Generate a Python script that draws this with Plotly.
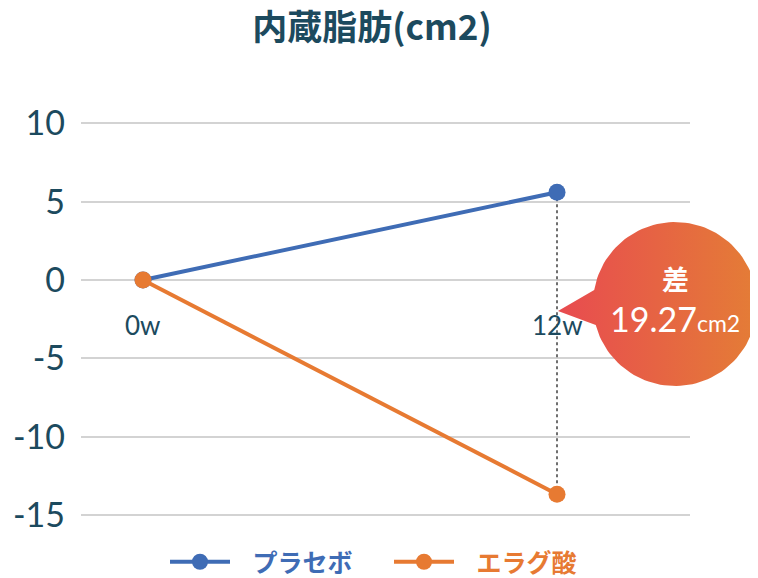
import numpy as np
import plotly.graph_objects as go

WEEKS = ["0w", "12w"]
PLACEBO = [0.0, 5.6]
ELLAGIC = [0.0, -13.67]
Y_TICKS = [10, 5, 0, -5, -10, -15]

BLUE = "#3f6cb5"
ORANGE = "#e77a32"
INK = "#1c4a5e"
# the page adds an 8px body margin, so the figure is that much smaller
OFF = 8
W, H = 758 - OFF, 578 - OFF
JP = "Noto Sans CJK JP"

xs = list(range(len(WEEKS)))
fig = go.Figure()

# dotted line joining the two 12w points
fig.add_trace(go.Scatter(
    x=[xs[-1], xs[-1]], y=[PLACEBO[-1], ELLAGIC[-1]], mode="lines",
    line=dict(color="#6f6f6f", width=2, dash="dot"), showlegend=False, hoverinfo="skip"))
fig.add_trace(go.Scatter(
    x=xs, y=PLACEBO, mode="lines+markers",
    name=f"<span style='color:{BLUE}'><b>\u2002\u2009プラセボ</b></span>",
    line=dict(color=BLUE, width=4), marker=dict(size=17, color=BLUE)))
fig.add_trace(go.Scatter(
    x=xs, y=ELLAGIC, mode="lines+markers",
    name=f"<span style='color:{ORANGE}'><b>\u2002\u2009エラグ酸</b></span>",
    line=dict(color=ORANGE, width=4), marker=dict(size=17, color=ORANGE)))

# speech bubble, drawn on a pixel-space overlay axis
cx, cy, r = 675 - OFF, 304 - OFF, 82
a1, a2 = np.arcsin(14 / r), np.arcsin(21 / r)
t = np.linspace(np.pi + a1, 3 * np.pi - a2, 120)
bx = np.concatenate([cx + r * np.cos(t), [558 - OFF, cx + r * np.cos(t[0])]])
by = np.concatenate([cy + r * np.sin(t), [311 - OFF, cy + r * np.sin(t[0])]])
fig.add_trace(go.Scatter(
    x=bx, y=by, xaxis="x2", yaxis="y2", mode="lines", fill="toself",
    line=dict(width=0, color="rgba(0,0,0,0)"),
    fillgradient=dict(type="horizontal", colorscale=[[0, "#e84b50"], [1, "#e47d36"]]),
    showlegend=False, hoverinfo="skip"))

diff = PLACEBO[-1] - ELLAGIC[-1]
fig.add_annotation(x=cx, y=278 - OFF, xref="x2", yref="y2", text="<b>差</b>", showarrow=False,
                   font=dict(family=JP, size=27, color="white"))
fig.add_annotation(x=cx, y=318 - OFF, xref="x2", yref="y2",
                   text=f"{diff:.2f}<span style='font-size:23px'>cm2</span>", showarrow=False,
                   font=dict(family="Lato", size=34, color="white"))

for x, w in zip(xs, WEEKS):
    fig.add_annotation(x=x, y=-2.85, text=w, showarrow=False,
                       font=dict(family="Lato", size=26, color=INK))

fig.update_layout(
    width=W, height=H, margin=dict(l=0, r=0, t=0, b=0, autoexpand=False),
    paper_bgcolor="white", plot_bgcolor="rgba(0,0,0,0)",
    title=dict(text="<b>内蔵脂肪(cm2)</b>", x=(372 - OFF) / W, xanchor="center",
               y=1 - 20 / H, yanchor="middle", font=dict(family=JP, size=35, color=INK)),
    xaxis=dict(domain=[73 / W, 682 / W], range=[-62 / 414, 1 + 133 / 414],
               showgrid=False, zeroline=False, showticklabels=False, automargin=False),
    yaxis=dict(domain=[1 - 511.7 / H, 1 - 110.6 / H], range=[-15.3, 10.3],
               tickvals=Y_TICKS, ticktext=[str(v) for v in Y_TICKS],
               gridcolor="#d3d3d3", gridwidth=2, zeroline=False, automargin=False,
               ticklabelstandoff=15,
               tickfont=dict(family="Lato", size=34, color=INK)),
    xaxis2=dict(domain=[0, 1], range=[0, W], anchor="y2", visible=False, fixedrange=True,
                automargin=False),
    yaxis2=dict(domain=[0, 1], range=[H, 0], anchor="x2", visible=False, fixedrange=True,
                automargin=False),
    legend=dict(orientation="h", x=(170 - OFF - 5) / W, xanchor="left",
                y=1 - (562 - OFF) / H, yanchor="middle",
                itemwidth=60, font=dict(family=JP, size=25), entrywidth=149),
)

fig.write_html("out.html")
